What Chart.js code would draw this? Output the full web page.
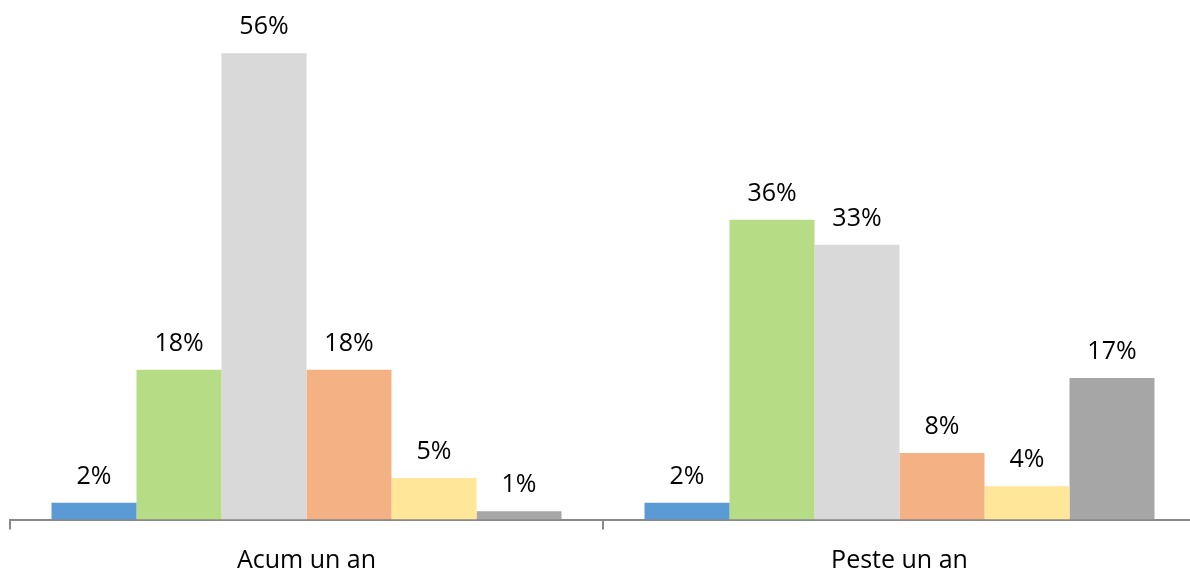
<!DOCTYPE html>
<html>
<head>
<meta charset="utf-8">
<script src="https://cdn.jsdelivr.net/npm/chart.js@4"></script>
<style>
  html, body { margin: 0; padding: 0; overflow: hidden; background: #fff; }
  canvas { display: block; }
</style>
</head>
<body>
<canvas id="barChart" width="1190" height="581"></canvas>
<script>
const categories = ['Acum un an', 'Peste un an'];
const seriesNames = ['Serie 1', 'Serie 2', 'Serie 3', 'Serie 4', 'Serie 5', 'Serie 6'];
const seriesColors = ['#5B9BD5', '#B6DD86', '#D9D9D9', '#F4B183', '#FFE699', '#A6A6A6'];
const serie1 = [2, 2];
const serie2 = [18, 36];
const serie3 = [56, 33];
const serie4 = [18, 8];
const serie5 = [5, 4];
const serie6 = [1, 17];
const allSeries = [serie1, serie2, serie3, serie4, serie5, serie6];

// labels above each bar
const valueLabels = {
    id: 'valueLabels',
    afterDatasetsDraw(chart) {
        const c = chart.ctx;
        c.save();
        c.font = '25px "Open Sans"';
        c.fillStyle = '#000';
        c.textAlign = 'center';
        c.textBaseline = 'alphabetic';
        chart.data.datasets.forEach((ds, i) => {
            chart.getDatasetMeta(i).data.forEach((bar, j) => {
                c.fillText(ds.data[j] + '%', bar.x, bar.y - 19);
            });
        });
        c.restore();
    }
};

// the original plot runs a few px past the right edge and sits lower than the default layout allows
const stretchArea = {
    id: 'stretchArea',
    afterLayout(chart) {
        const x = chart.scales.x;
        const y = chart.scales.y;
        const dr = 6, db = 10.5;
        x.right += dr;
        x.width += dr;
        x.top += db;
        x.bottom += db;
        x.configure();
        y.bottom += db;
        y.height += db;
        y.configure();
        chart.chartArea.right += dr;
        chart.chartArea.width += dr;
        chart.chartArea.bottom += db;
        chart.chartArea.height += db;
    }
};

const ctx = document.getElementById('barChart').getContext('2d');
const barChart = new Chart(ctx, {
    type: 'bar',
    data: {
        labels: categories,
        datasets: allSeries.map((d, i) => ({
            label: seriesNames[i],
            backgroundColor: seriesColors[i],
            data: d,
            categoryPercentage: 0.86,
            barPercentage: 1.0
        }))
    },
    options: {
        responsive: false,
        animation: false,
        layout: { padding: { left: 10, right: 0, top: 20, bottom: 0 } },
        plugins: {
            legend: { display: false },
            tooltip: { enabled: false }
        },
        scales: {
            x: {
                grid: { display: true, drawOnChartArea: false, color: '#898989', lineWidth: 2, tickLength: 10, offset: true },
                border: { display: true, color: '#898989', width: 2 },
                ticks: { color: '#000', font: { family: 'Open Sans', size: 25 }, padding: 16 }
            },
            y: {
                display: false,
                min: 0,
                max: 60
            }
        }
    },
    plugins: [valueLabels, stretchArea]
});
</script>
</body>
</html>
